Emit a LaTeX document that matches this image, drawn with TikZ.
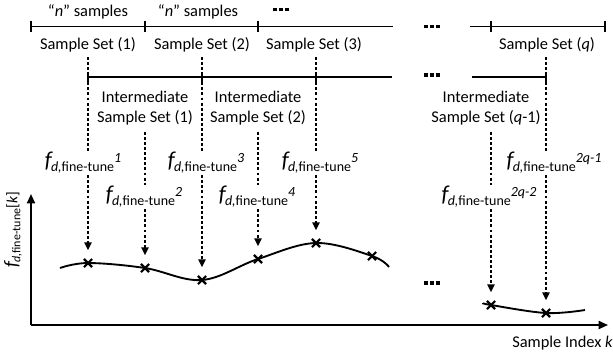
\documentclass[tikz,border=0pt]{standalone}
\usepackage{fontspec}
\setmainfont{Carlito}
\usetikzlibrary{arrows.meta,shapes.misc}
\newcommand{\fdf}[1]{{\fontsize{17}{17}\selectfont\itshape f}\kern-0.5pt\raisebox{-3pt}{\fontsize{10.5}{10.5}\selectfont\textit{d,}fine-tune}\raisebox{4pt}{\fontsize{10.5}{10.5}\selectfont\itshape #1}}
\newcommand{\fdfy}{{\fontsize{14.5}{14.5}\selectfont\itshape f}\kern-0.4pt\raisebox{-2.2pt}{\fontsize{9}{9}\selectfont\textit{d,}fine-tune}{\fontsize{11.5}{11.5}\selectfont[\textit{k}]}}
\newcommand{\bdots}{\rule{2.9pt}{2.9pt}\hspace{1.5pt}\rule{2.9pt}{2.9pt}\hspace{1.5pt}\rule{2.9pt}{2.9pt}}
\begin{document}
\begin{tikzpicture}[x=0.75pt,y=-0.75pt,
  font=\fontsize{12.3}{15}\selectfont,
  solid line/.style={line width=1.4pt},
  tickmark/.style={line width=1.4pt},
  dline/.style={line width=1.3pt,dash pattern=on 2.2pt off 1.6pt},
  darrow/.style={dline,-{Triangle[width=5.5pt,length=6pt]},shorten >=6.5pt},
  flabel/.style={inner sep=1pt},
  crossmark/.style={cross out,draw,line width=1.6pt,minimum size=4.5pt,inner sep=0pt},
  dots/.style={inner sep=0pt}]
\useasboundingbox (0,0) rectangle (613,358);

% top line
\coordinate (t0) at (31,26.5);
\coordinate (t1) at (145,26.5);
\coordinate (t2) at (258,26.5);
\coordinate (t3) at (393,26.5);
\coordinate (t4) at (470,26.5);
\coordinate (t5) at (491,26.5);
\coordinate (t6) at (605,26.5);
\draw[solid line] (t0) -- (t3);
\draw[solid line] (t4) -- (t6);
\foreach \p in {t0,t1,t2,t5,t6}{
  \draw[tickmark] ([yshift=4.5pt]\p) -- ([yshift=-4pt]\p);
}
\node (n1) at (88,12) {“\textit{n}” samples};
\node (n2) at (198,12) {“\textit{n}” samples};
\node[dots] (d1) at (281,9.5) {\bdots};
\node[dots] (d2) at (432,26.5) {\bdots};

\node (s1) at (88,45) {Sample Set (1)};
\node (s2) at (202,45) {Sample Set (2)};
\node (s3) at (314,45) {Sample Set (3)};
\node (sq) at (547,45) {Sample Set (\textit{q})};

% second line
\coordinate (m0) at (88,77);
\coordinate (m1) at (202,77);
\coordinate (m2) at (316,77);
\coordinate (m3) at (392,77);
\coordinate (m4) at (472,77);
\coordinate (m5) at (546,77);
\draw[solid line] (m0) -- (m3);
\draw[solid line] (m4) -- (m5);
\foreach \p in {m0,m1,m2,m5}{
  \draw[tickmark] ([yshift=4pt]\p) -- ([yshift=-4pt]\p);
}
\node[dots] (d3) at (432,75) {\bdots};

\node[align=center] (i1) at (145,108) {Intermediate\\Sample Set (1)};
\node[align=center] (i2) at (258,108) {Intermediate\\Sample Set (2)};
\node[align=center] (i3) at (486,108) {Intermediate\\Sample Set (\textit{q}-1)};

% f labels
\node[flabel] (f1) at (83,163) {\fdf{1}};
\node[flabel] (f3) at (206,163) {\fdf{3}};
\node[flabel] (f5) at (320,163) {\fdf{5}};
\node[flabel] (f7) at (554,163) {\fdf{2q-1}};
\node[flabel] (f2) at (144,197) {\fdf{2}};
\node[flabel] (f4) at (257,197) {\fdf{4}};
\node[flabel] (f6) at (489,197) {\fdf{2q-2}};

% curves
\draw[line width=1.4pt] plot[smooth,tension=0.6] coordinates {(60,268) (88,263) (145,268) (202,280) (258,259) (316,243) (372,256) (389,267)};
\draw[line width=1.4pt] plot[smooth,tension=0.6] coordinates {(483,303) (491,305) (546,313) (585,310)};
\node[crossmark] (c1) at (88,263) {};
\node[crossmark] (c2) at (145,268) {};
\node[crossmark] (c3) at (202,280) {};
\node[crossmark] (c4) at (258,259) {};
\node[crossmark] (c5) at (316,243) {};
\node[crossmark] (c6) at (372,256) {};
\node[crossmark] (c7) at (491,305) {};
\node[crossmark] (c8) at (546,313) {};
\node[dots] (d4) at (432,283) {\bdots};

% dashed columns
\coordinate (a1) at (88,57);
\coordinate (a3) at (202,57);
\coordinate (a5) at (316,57);
\coordinate (a7) at (546,57);
\coordinate (a2) at (145,132);
\coordinate (a4) at (258,132);
\coordinate (a6) at (491,132);
\draw[dline] (a1) -- (a1 |- f1.north);
\draw[dline] (a3) -- (a3 |- f3.north);
\draw[dline] (a5) -- (a5 |- f5.north);
\draw[dline] (a7) -- (a7 |- f7.north);
\draw[dline] (a2) -- (a2 |- f2.north);
\draw[dline] (a4) -- (a4 |- f4.north);
\draw[dline] (a6) -- (a6 |- f6.north);
\draw[darrow] (c1 |- f1.south) -- (c1);
\draw[darrow] (c3 |- f3.south) -- (c3);
\draw[darrow] (c5 |- f5.south) -- (c5);
\draw[darrow] (c8 |- f7.south) -- (c8);
\draw[darrow] (c2 |- f2.south) -- (c2);
\draw[darrow] (c4 |- f4.south) -- (c4);
\draw[darrow] (c7 |- f6.south) -- (c7);

% axes
\coordinate (O) at (31,325);
\coordinate (X) at (608,325);
\coordinate (Y) at (31,194);
\draw[line width=1.4pt,-{Triangle[width=6pt,length=7pt]}] (O) -- (X);
\draw[line width=1.4pt,-{Triangle[width=6pt,length=7pt]}] (O) -- (Y);
\node[anchor=east,inner sep=0pt] (xl) at (613,343) {Sample Index \textit{k}};
\node[rotate=90,inner sep=0pt] (yl) at (13,230) {\fdfy};
\end{tikzpicture}
\end{document}
